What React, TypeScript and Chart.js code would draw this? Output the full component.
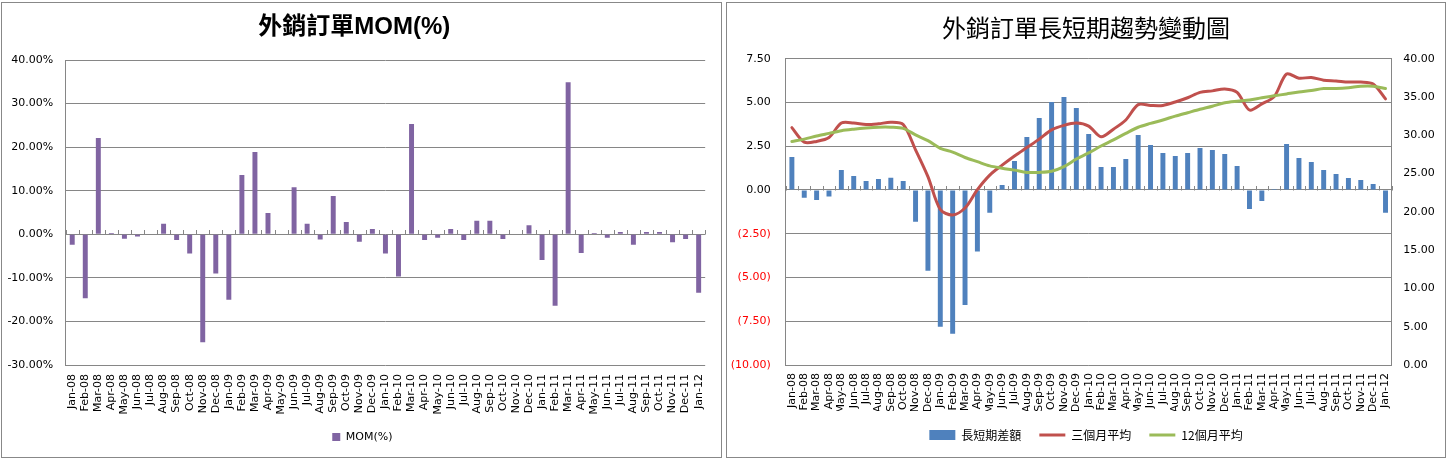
import React, { useEffect, useRef } from "react";
import { Chart, registerables } from "chart.js";

Chart.register(...registerables);

// ---------- data ----------
const months = [
  "Jan-08", "Feb-08", "Mar-08", "Apr-08", "May-08", "Jun-08", "Jul-08", "Aug-08", "Sep-08", "Oct-08", "Nov-08", "Dec-08",
  "Jan-09", "Feb-09", "Mar-09", "Apr-09", "May-09", "Jun-09", "Jul-09", "Aug-09", "Sep-09", "Oct-09", "Nov-09", "Dec-09",
  "Jan-10", "Feb-10", "Mar-10", "Apr-10", "May-10", "Jun-10", "Jul-10", "Aug-10", "Sep-10", "Oct-10", "Nov-10", "Dec-10",
  "Jan-11", "Feb-11", "Mar-11", "Apr-11", "May-11", "Jun-11", "Jul-11", "Aug-11", "Sep-11", "Oct-11", "Nov-11", "Dec-11",
  "Jan-12",
];

// 外銷訂單MOM(%)
const momValues = [
  -2.4, -14.7, 22.1, 0.3, -1.0, -0.5, 0, 2.4, -1.3, -4.4, -24.8, -9.0,
  -15.0, 13.6, 18.9, 4.9, 0, 10.8, 2.4, -1.2, 8.8, 2.8, -1.7, 1.2,
  -4.4, -9.7, 25.3, -1.3, -0.8, 1.2, -1.3, 3.1, 3.1, -1.1, 0, 2.1,
  -5.9, -16.4, 34.9, -4.3, 0.3, -0.8, 0.5, -2.4, 0.5, 0.5, -1.8, -1.1,
  -13.4,
];

// 長短期差額 (left axis)
const spreadValues = [
  1.89, -0.44, -0.57, -0.38, 1.14, 0.8, 0.51, 0.63, 0.7, 0.51, -1.81, -4.61,
  -7.81, -8.21, -6.57, -3.52, -1.3, 0.29, 1.66, 3.03, 4.11, 5.03, 5.31, 4.69,
  3.2, 1.31, 1.31, 1.77, 3.14, 2.57, 2.11, 1.94, 2.11, 2.4, 2.29, 2.06,
  1.37, -1.09, -0.63, 0.06, 2.63, 1.83, 1.6, 1.14, 0.91, 0.69, 0.57, 0.34,
  -1.3,
];

// 三個月平均 (right axis)
const avg3Values = [
  31.0, 29.1, 29.2, 29.7, 31.6, 31.6, 31.4, 31.5, 31.7, 31.4, 28.1, 24.6,
  20.3, 19.6, 20.5, 22.9, 24.8, 26.1, 27.3, 28.4, 29.5, 30.7, 31.3, 31.6,
  31.2, 29.8, 30.8, 32.0, 34.0, 33.9, 33.9, 34.35, 34.9, 35.6, 35.8, 36.05,
  35.6, 33.3, 34.1, 35.05, 38.0, 37.45, 37.55, 37.2, 37.1, 36.95, 36.95, 36.7,
  34.75,
];

// 12個月平均 (right axis)
const avg12Values = [
  29.2, 29.5, 29.9, 30.25, 30.6, 30.8, 30.95, 31.05, 31.05, 30.9, 30.05, 29.3,
  28.3, 27.8, 27.1, 26.55, 26.0, 25.7, 25.45, 25.15, 25.15, 25.3, 25.9, 26.9,
  27.7, 28.6, 29.4, 30.25, 31.05, 31.55, 32.0, 32.5, 32.95, 33.4, 33.8, 34.25,
  34.45, 34.6, 34.9, 35.15, 35.4, 35.65, 35.85, 36.1, 36.1, 36.2, 36.4, 36.4,
  36.1,
];

// axis ranges: [min, max, step]
const momAxis = [-30, 40, 10];
const spreadAxis = [-10, 7.5, 2.5];
const avgAxis = [0, 40, 5];

// ---------- styles ----------
const GRID = "#868686";
const PURPLE = "#8064A2";
const BLUE = "#4F81BD";
const RED = "#C0504D";
const GREEN = "#9BBB59";
const LATIN = "'DejaVu Sans', Verdana, sans-serif";
const CJK = "'Noto Sans CJK TC', 'Noto Sans CJK SC', sans-serif";
const TITLE_BOLD = "'Liberation Sans', 'Noto Sans CJK TC', 'Noto Sans CJK SC', sans-serif";

const zeroTickPlugin = (axisId: string) => ({
  id: "zeroTicks",
  afterDatasetsDraw(chart: any) {
    const x = chart.scales.x;
    const y = chart.scales[axisId];
    const y0 = Math.round(y.getPixelForValue(0)) + 0.5;
    const n = chart.data.labels.length;
    const step = (x.right - x.left) / n;
    const ctx = chart.ctx;
    ctx.save();
    ctx.strokeStyle = GRID;
    ctx.lineWidth = 1;
    ctx.beginPath();
    for (let i = 0; i <= n; i++) {
      const px = Math.round(x.left + i * step) + 0.5;
      ctx.moveTo(px, y0 - 4.5);
      ctx.lineTo(px, y0);
    }
    ctx.stroke();
    ctx.restore();
  },
});

const legendShift = (dx: number) => ({
  id: "legendShift",
  afterLayout(chart: any) {
    if (chart.legend) {
      chart.legend.left += dx;
      chart.legend.right += dx;
    }
  },
});

const fmt2 = (v: number) => Math.abs(v).toFixed(2);

function MomChart() {
  const ref = useRef<HTMLCanvasElement | null>(null);
  useEffect(() => {
    if (!ref.current) return;
    const chart = new Chart(ref.current, {
      type: "bar",
      data: {
        labels: months,
        datasets: [
          {
            label: "MOM(%)",
            data: momValues,
            backgroundColor: PURPLE,
            borderWidth: 0,
            barPercentage: 0.38,
            categoryPercentage: 1,
          },
        ],
      },
      options: {
        responsive: false,
        animation: false,
        layout: { padding: { left: 0, right: 14.3, top: 0, bottom: 4.5 } },
        plugins: {
          title: {
            display: true,
            text: "外銷訂單MOM(%)",
            color: "#000",
            font: { family: TITLE_BOLD, size: 24, weight: "bold" },
            padding: { top: 10.1, bottom: 18.1 },
          },
          legend: {
            position: "bottom",
            labels: {
              boxWidth: 8,
              boxHeight: 8,
              padding: 10,
              color: "#000",
              font: { family: LATIN, size: 11 },
            },
          },
          tooltip: { enabled: false },
        },
        scales: {
          x: {
            grid: { display: false, drawTicks: false },
            border: { display: false },
            ticks: {
              autoSkip: false,
              minRotation: 90,
              maxRotation: 90,
              padding: 9,
              color: "#000",
              font: { family: LATIN, size: 11 },
            },
            afterFit: (s: any) => {
              s.height = 56.5;
            },
          },
          y: {
            min: momAxis[0],
            max: momAxis[1],
            ticks: {
              stepSize: momAxis[2],
              padding: 12.4,
              color: "#000",
              font: { family: LATIN, size: 11 },
              callback: (v: any) => Number(v).toFixed(2) + "%",
            },
            grid: { color: GRID, drawTicks: false },
            border: { display: true, color: GRID },
            afterFit: (s: any) => {
              s.width = 63.7;
            },
          },
        },
      } as any,
      plugins: [zeroTickPlugin("y"), legendShift(8)],
    });
    return () => chart.destroy();
  }, []);
  return <canvas ref={ref} width={719} height={454} style={{ display: "block", width: 719, height: 454 }} />;
}

function TrendChart() {
  const ref = useRef<HTMLCanvasElement | null>(null);
  useEffect(() => {
    if (!ref.current) return;
    const chart = new Chart(ref.current, {
      type: "bar",
      data: {
        labels: months,
        datasets: [
          {
            type: "bar",
            label: "長短期差額",
            data: spreadValues,
            yAxisID: "y",
            backgroundColor: BLUE,
            borderWidth: 0,
            barPercentage: 0.4,
            categoryPercentage: 1,
            order: 3,
          },
          {
            type: "line",
            label: "三個月平均",
            data: avg3Values,
            yAxisID: "y1",
            borderColor: RED,
            backgroundColor: RED,
            borderWidth: 3,
            pointRadius: 0,
            tension: 0.3,
            borderCapStyle: "round",
            borderJoinStyle: "round",
            order: 2,
          },
          {
            type: "line",
            label: "12個月平均",
            data: avg12Values,
            yAxisID: "y1",
            borderColor: GREEN,
            backgroundColor: GREEN,
            borderWidth: 3,
            pointRadius: 0,
            tension: 0.3,
            borderCapStyle: "round",
            borderJoinStyle: "round",
            order: 1,
          },
        ],
      },
      options: {
        responsive: false,
        animation: false,
        layout: { padding: { left: 0, right: 0, top: 0, bottom: 6 } },
        plugins: {
          title: {
            display: true,
            text: "外銷訂單長短期趨勢變動圖",
            color: "#000",
            font: { family: CJK, size: 24, weight: "normal" },
            padding: { top: 10.1, bottom: 16.8 },
          },
          legend: {
            position: "bottom",
            labels: {
              usePointStyle: true,
              pointStyleWidth: 26,
              boxHeight: 10,
              padding: 18,
              color: "#000",
              font: { family: CJK, size: 12 },
              sort: (a: any, b: any) => a.datasetIndex - b.datasetIndex,
              generateLabels: (c: any) =>
                (Chart.defaults.plugins.legend.labels.generateLabels as any)(c).map((l: any) => ({
                  ...l,
                  pointStyle: l.datasetIndex === 0 ? "rect" : "line",
                  lineWidth: l.datasetIndex === 0 ? 0 : 3,
                })),
            },
          },
          tooltip: { enabled: false },
        },
        scales: {
          x: {
            grid: { display: false, drawTicks: false },
            border: { display: false },
            ticks: {
              autoSkip: false,
              minRotation: 90,
              maxRotation: 90,
              padding: 8,
              color: "#000",
              font: { family: LATIN, size: 11 },
            },
            afterFit: (s: any) => {
              s.height = 46;
            },
          },
          y: {
            position: "left",
            min: spreadAxis[0],
            max: spreadAxis[1],
            ticks: {
              stepSize: spreadAxis[2],
              padding: 15,
              font: { family: LATIN, size: 11 },
              color: (ctx: any) => (ctx.tick && ctx.tick.value < 0 ? "#FF0000" : "#000"),
              callback: (v: any) => (Number(v) < 0 ? "(" + fmt2(Number(v)) + ")" : fmt2(Number(v))),
            },
            grid: { color: GRID, drawTicks: false },
            border: { display: true, color: GRID },
            afterFit: (s: any) => {
              s.width = 58.7;
            },
          },
          y1: {
            position: "right",
            min: avgAxis[0],
            max: avgAxis[1],
            ticks: {
              stepSize: avgAxis[2],
              padding: 11.6,
              color: "#000",
              font: { family: LATIN, size: 11 },
              callback: (v: any) => Number(v).toFixed(2),
            },
            grid: { display: false, drawTicks: false },
            border: { display: true, color: GRID },
            afterFit: (s: any) => {
              s.width = 53.3;
            },
          },
        },
      } as any,
      plugins: [zeroTickPlugin("y")],
    });
    return () => chart.destroy();
  }, []);
  return <canvas ref={ref} width={718} height={454} style={{ display: "block", width: 718, height: 454 }} />;
}

export default function App() {
  const panel: React.CSSProperties = {
    position: "absolute",
    top: 2,
    height: 456,
    boxSizing: "border-box",
    border: "1px solid #888888",
    background: "#fff",
  };
  return (
    <div style={{ position: "absolute", left: 0, top: 0, width: 1448, height: 459, background: "#fff" }}>
      <div style={{ ...panel, left: 1, width: 721 }}>
        <MomChart />
      </div>
      <div style={{ ...panel, left: 726, width: 720 }}>
        <TrendChart />
      </div>
    </div>
  );
}
